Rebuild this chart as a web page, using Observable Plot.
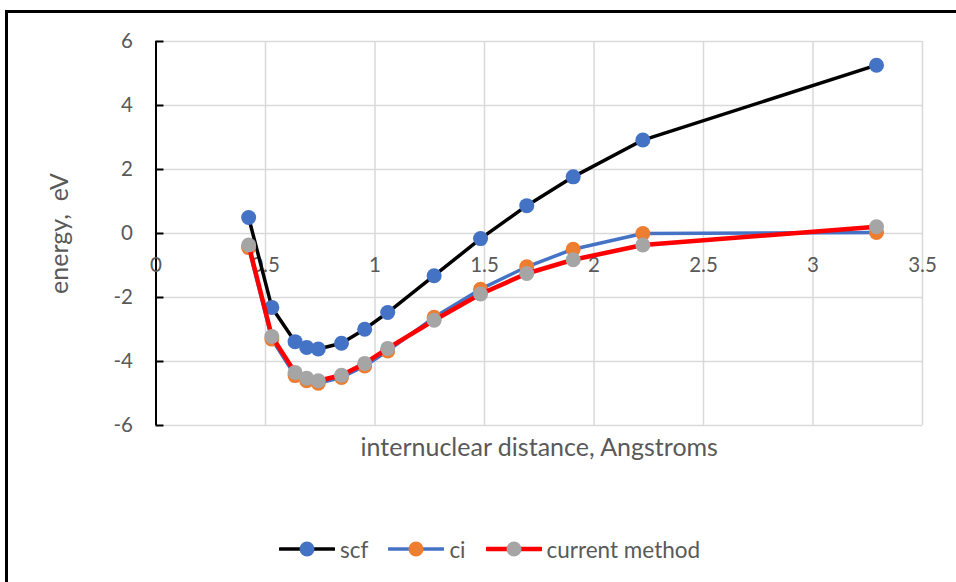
<!DOCTYPE html>
<html>
<head>
<meta charset="utf-8">
<script src="https://cdn.jsdelivr.net/npm/d3@7"></script>
<script src="https://cdn.jsdelivr.net/npm/@observablehq/plot@0.6"></script>
<style>
  html, body { margin: 0; padding: 0; background: #fff; }
  #wrap { position: relative; width: 956px; height: 582px; overflow: hidden; font-family: Lato, "Open Sans", sans-serif; }
  #frame { position: absolute; left: 5px; top: 10px; width: 1000px; height: 700px; border-top: 3px solid #000; border-left: 3px solid #000; box-sizing: border-box; }
  #chart { position: absolute; left: 0; top: 0; }
  #legend { position: absolute; top: 535px; left: 0; width: 956px; height: 28px; display: flex; justify-content: flex-start; align-items: center; padding-left: 279px; box-sizing: border-box; }
  .item { display: flex; align-items: center; margin-right: 20px; color: #595959; font-size: 22.5px; }
  .item svg { margin-right: 5px; }
</style>
</head>
<body>
<div id="wrap">
  <div id="frame"></div>
  <div id="chart"></div>
  <div id="legend"></div>
</div>
<script>
// Data (internuclear distance in Angstroms, energy in eV)
const distance = [0.423, 0.529, 0.635, 0.688, 0.741, 0.847, 0.953, 1.058, 1.270, 1.482, 1.693, 1.905, 2.223, 3.290];
const scf      = [0.50, -2.31, -3.38, -3.56, -3.61, -3.43, -2.99, -2.47, -1.32, -0.16, 0.87, 1.77, 2.92, 5.26];
const ci       = [-0.44, -3.30, -4.44, -4.60, -4.68, -4.50, -4.14, -3.67, -2.62, -1.74, -1.04, -0.49, 0.00, 0.03];
const current  = [-0.36, -3.22, -4.34, -4.52, -4.60, -4.43, -4.06, -3.59, -2.71, -1.89, -1.25, -0.82, -0.36, 0.21];

const seriesNames = ["scf", "ci", "current method"];
const lineColors  = ["#000000", "#4472C4", "#FF0000"];
const dotColors   = ["#4472C4", "#ED7D31", "#A5A5A5"];
const lineWidths  = [3.5, 3.5, 4.5];

const xTicks = [0, 0.5, 1, 1.5, 2, 2.5, 3, 3.5];
const yTicks = [-6, -4, -2, 0, 2, 4, 6];
const xLabel = "internuclear distance, Angstroms";
const yLabel = "energy,\u00a0 eV";

const seriesValues = [scf, ci, current];
const rows = seriesNames.map((name, i) => distance.map((d, j) => ({series: name, x: d, y: seriesValues[i][j]})));

const W = 956, H = 500;
const mL = 155.5, mR = 34, mT = 41, mB = 75;
const frameW = W - mL - mR;

const marks = [
  Plot.gridX(xTicks.filter(d => d !== 0), {stroke: "#d9d9d9", strokeOpacity: 1, strokeWidth: 1.5}),
  Plot.gridY(yTicks, {stroke: "#d9d9d9", strokeOpacity: 1, strokeWidth: 1.5}),
  Plot.ruleX([0], {stroke: "#000", strokeWidth: 2}),
  Plot.tickY(yTicks, {stroke: "#000", strokeWidth: 2, insetRight: frameW - 8}),
  Plot.axisY(yTicks, {tickSize: 0, tickPadding: 23, fontSize: 20.5, fill: "#595959", label: null, tickFormat: d => String(d)}),
  Plot.text(xTicks, {x: d => d, y: 0, dy: 32, text: d => String(d), fontSize: 20.5, fill: "#595959"}),
  Plot.text([xLabel], {frameAnchor: "bottom", dy: 22, lineAnchor: "middle", textAnchor: "middle", fontSize: 25, fill: "#595959"}),
  Plot.text([yLabel], {frameAnchor: "left", dx: -96, rotate: -90, textAnchor: "middle", lineAnchor: "middle", fontSize: 25, fill: "#595959"})
];
rows.forEach((r, i) => {
  marks.push(Plot.line(r, {x: "x", y: "y", stroke: lineColors[i], strokeWidth: lineWidths[i], strokeLinejoin: "round"}));
  marks.push(Plot.dot(r, {x: "x", y: "y", r: 7.5, fill: dotColors[i], stroke: "none"}));
});

const chart = Plot.plot({
  width: W, height: H,
  marginLeft: mL, marginRight: mR, marginTop: mT, marginBottom: mB,
  x: {domain: [0, 3.5], axis: null},
  y: {domain: [-6, 6], axis: null},
  style: {fontFamily: "Lato, 'Open Sans', sans-serif", background: "transparent", color: "#595959"},
  marks
});
document.getElementById("chart").appendChild(chart);

// Legend
const legend = document.getElementById("legend");
seriesNames.forEach((name, i) => {
  const item = document.createElement("div");
  item.className = "item";
  item.innerHTML = `<svg width="56" height="20"><line x1="1" y1="10" x2="55" y2="10" stroke="${lineColors[i]}" stroke-width="${lineWidths[i]}" stroke-linecap="round"/><circle cx="28" cy="10" r="7.5" fill="${dotColors[i]}"/></svg><span>${name}</span>`;
  legend.appendChild(item);
});
</script>
</body>
</html>
